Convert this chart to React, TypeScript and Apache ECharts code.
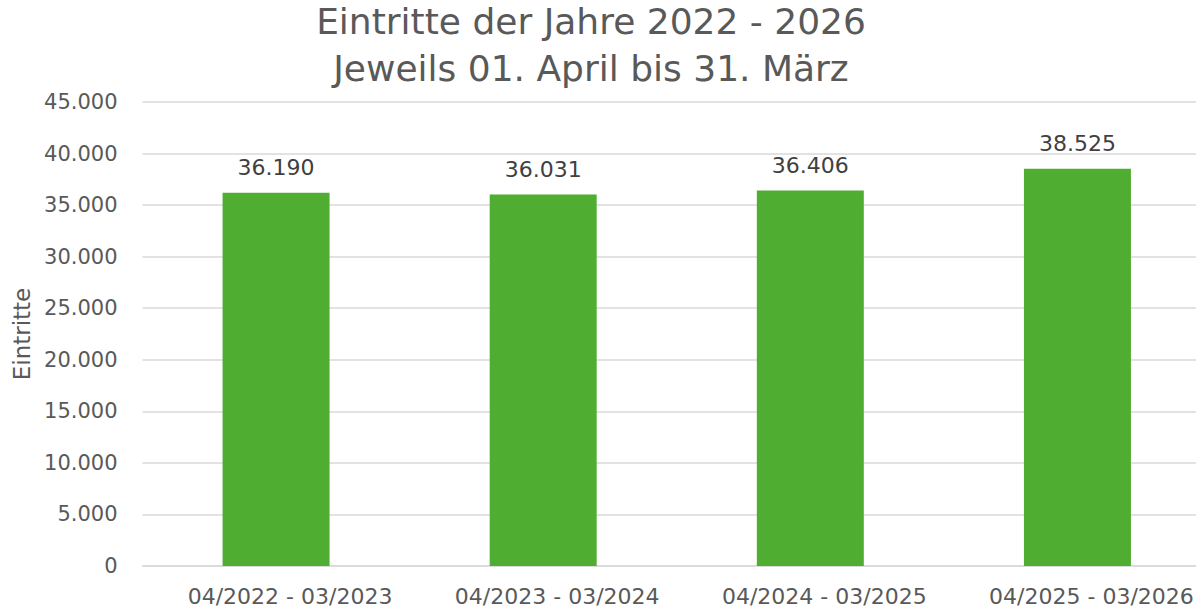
import React, { useEffect, useRef } from "react";
import * as echarts from "echarts";

const categories = ["04/2022 - 03/2023", "04/2023 - 03/2024", "04/2024 - 03/2025", "04/2025 - 03/2026"];
const values = [36190, 36031, 36406, 38525];
const titleLines = ["Eintritte der Jahre 2022 - 2026", "Jeweils 01. April bis 31. März"];
const yAxisName = "Eintritte";

const FONT = "DejaVu Sans";
const fmt = (v: number) => String(v).replace(/\B(?=(\d{3})+(?!\d))/g, ".");

export default function App() {
  const ref = useRef<HTMLDivElement>(null);
  useEffect(() => {
    if (!ref.current) return;
    const chart = echarts.init(ref.current, null, { renderer: "svg" });
    chart.setOption({
      animation: false,
      backgroundColor: "#ffffff",
      title: {
        text: titleLines.join("\n"),
        left: 586,
        top: -7,
        textAlign: "center",
        textStyle: { fontFamily: FONT, fontSize: 36, fontWeight: "normal", color: "#595959", lineHeight: 47 },
      },
      grid: { left: 142.5, width: 1068.5, top: 102, bottom: 44, containLabel: false, outerBoundsMode: "none" },
      xAxis: {
        type: "category",
        data: categories,
        axisLine: { lineStyle: { color: "#D9D9D9", width: 1.5 } },
        axisTick: { show: false },
        axisLabel: {
          fontFamily: FONT,
          fontSize: 22,
          color: "#595959",
          margin: 19,
          interval: 0,
          hideOverlap: false,
          padding: [0, 0, 0, 28],
        },
      },
      yAxis: {
        type: "value",
        min: 0,
        max: 45000,
        interval: 5000,
        name: yAxisName,
        nameLocation: "middle",
        nameGap: 103,
        nameTextStyle: { fontFamily: FONT, fontSize: 23, color: "#595959" },
        axisLabel: { fontFamily: FONT, fontSize: 21, color: "#595959", margin: 25, formatter: (v: number) => fmt(v) },
        splitLine: { lineStyle: { color: "#D9D9D9", width: 1.5 } },
      },
      series: [
        {
          type: "bar",
          data: values,
          barWidth: 107,
          itemStyle: { color: "#4FAE31" },
          label: {
            show: true,
            position: "top",
            distance: 14,
            fontFamily: FONT,
            fontSize: 22,
            color: "#404040",
            formatter: (p: any) => fmt(p.value),
          },
        },
      ],
    });
    return () => chart.dispose();
  }, []);
  return <div ref={ref} style={{ width: 1196, height: 610, position: "absolute", left: 0, top: 0 }} />;
}
